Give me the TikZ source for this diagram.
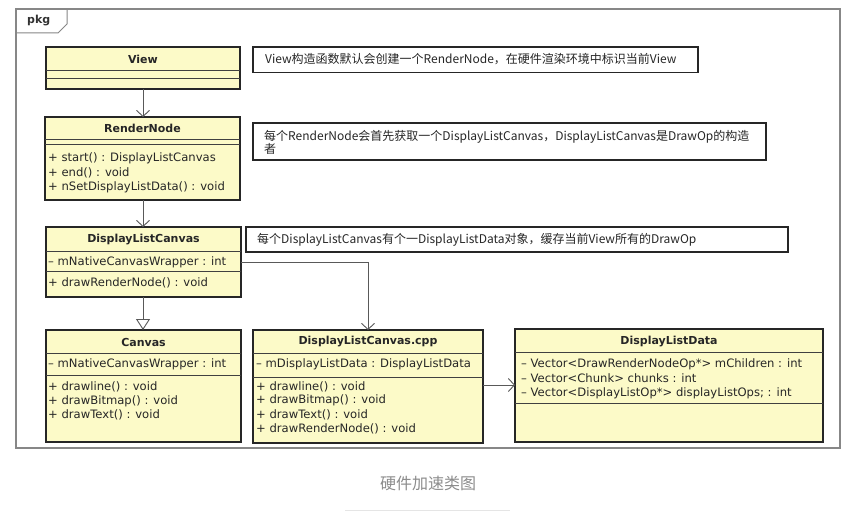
\documentclass[tikz,border=0pt]{standalone}
\usepackage{fontspec}
\setmainfont{DejaVu Sans}
\newfontfamily\cjk{Noto Sans CJK SC}
\usetikzlibrary{arrows.meta,calc}
\definecolor{classfill}{RGB}{252,250,200}
\definecolor{framegray}{RGB}{135,135,135}
\definecolor{capgray}{RGB}{140,140,140}
\tikzset{
  classbox/.style={draw=black!85, line width=1.6pt, fill=classfill, anchor=north west, inner sep=0pt, outer sep=0pt},
  notebox/.style={draw=black!85, line width=1.6pt, fill=white, anchor=north west, inner sep=0pt, outer sep=0pt},
  sepline/.style={draw=black!75, line width=0.8pt},
  cname/.style={font=\fontsize{11}{13}\selectfont\bfseries, inner sep=0pt, text=black!85},
  member/.style={font=\fontsize{11.6}{13}\selectfont, anchor=west, inner sep=0pt, text=black!85},
  notetext/.style={font=\cjk\fontsize{12}{14}\selectfont, anchor=west, inner sep=0pt, align=left, text=black!85},
  assoc/.style={draw=black!65, line width=0.9pt, -{Straight Barb[length=6pt,width=13pt]}},
  inherit/.style={draw=black!65, line width=0.9pt, -{Triangle[open,length=11pt,width=14pt,fill=white]}},
}
\begin{document}
\begin{tikzpicture}[x=1pt,y=-1pt]
\useasboundingbox (0,0) rectangle (866,519);
\fill[white] (0,0) rectangle (866,519);

% package frame
\draw[framegray, line width=1.2pt] (16,9) rectangle (840,448);
\draw[framegray, line width=1pt] (16,33) -- (58,33) -- (67,24) -- (67,9);
\node[font=\fontsize{11}{12}\selectfont\bfseries, anchor=west, inner sep=0pt, text=black!80] (pkg) at (27,21) {pkg};

% View
\node[classbox, minimum width=194pt, minimum height=42pt] (view) at (46,47) {};
\draw[sepline] (46,70) -- (240,70);
\draw[sepline] (46,78) -- (240,78);
\node[cname] (viewname) at (143,59) {View};

% RenderNode
\node[classbox, minimum width=195pt, minimum height=83pt] (rnode) at (45,117) {};
\draw[sepline] (45,139) -- (240,139);
\draw[sepline] (45,144.5) -- (240,144.5);
\node[cname] (rnname) at (142.5,128) {RenderNode};
\node[member] (rn1) at (48,158) {+ start() : DisplayListCanvas};
\node[member] (rn2) at (48,172.5) {+ end() : void};
\node[member] (rn3) at (48,187) {+ nSetDisplayListData() : void};

% DisplayListCanvas
\node[classbox, minimum width=195pt, minimum height=70pt] (dlc) at (46,227) {};
\draw[sepline] (46,251.5) -- (241,251.5);
\draw[sepline] (46,271.5) -- (241,271.5);
\node[cname] (dlcname) at (143.5,239.5) {DisplayListCanvas};
\node[member] (dlcattr) at (48,262) {-- mNativeCanvasWrapper : int};
\node[member] (dlcop) at (48,283) {+ drawRenderNode() : void};

% Canvas
\node[classbox, minimum width=195pt, minimum height=112pt] (canvas) at (46,330) {};
\draw[sepline] (46,353) -- (241,353);
\draw[sepline] (46,375) -- (241,375);
\node[cname] (canvasname) at (143.5,342) {Canvas};
\node[member] (cv1) at (48,364) {-- mNativeCanvasWrapper : int};
\node[member] (cv2) at (48,387) {+ drawline() : void};
\node[member] (cv3) at (48,401) {+ drawBitmap() : void};
\node[member] (cv4) at (48,415) {+ drawText() : void};

% DisplayListCanvas.cpp
\node[classbox, minimum width=230pt, minimum height=113pt] (cpp) at (253,330) {};
\draw[sepline] (253,353) -- (483,353);
\draw[sepline] (253,377.5) -- (483,377.5);
\node[cname] (cppname) at (368,342) {DisplayListCanvas.cpp};
\node[member] (cp0) at (256,364.5) {-- mDisplayListData : DisplayListData};
\node[member] (cp1) at (256,386.5) {+ drawline() : void};
\node[member] (cp2) at (256,400.5) {+ drawBitmap() : void};
\node[member] (cp3) at (256,414.5) {+ drawText() : void};
\node[member] (cp4) at (256,428.5) {+ drawRenderNode() : void};

% DisplayListData
\node[classbox, minimum width=308pt, minimum height=113pt] (dld) at (515,329) {};
\draw[sepline] (515,352.5) -- (823,352.5);
\draw[sepline] (515,403.5) -- (823,403.5);
\node[cname] (dldname) at (669,342) {DisplayListData};
\node[member] (dl1) at (521,364) {-- Vector<DrawRenderNodeOp*> mChildren : int};
\node[member] (dl2) at (521,378.5) {-- Vector<Chunk> chunks : int};
\node[member] (dl3) at (521,393) {-- Vector<DisplayListOp*> displayListOps; : int};

% notes
\node[notebox, minimum width=445pt, minimum height=25.5pt] (note1) at (253,47) {};
\node[notetext] (n1) at (265,59.5) {View构造函数默认会创建一个RenderNode，在硬件渲染环境中标识当前View};
\node[notebox, minimum width=513pt, minimum height=37pt] (note2) at (253,123) {};
\node[notetext, font=\cjk\fontsize{12}{13.5}\selectfont] (n2) at (264,142.5) {每个RenderNode会首先获取一个DisplayListCanvas，DisplayListCanvas是DrawOp的构造\\者};
\node[notebox, minimum width=542pt, minimum height=25pt] (note3) at (246,227) {};
\node[notetext] (n3) at (257,239.5) {每个DisplayListCanvas有个一DisplayListData对象，缓存当前View所有的DrawOp};

% connectors
\draw[assoc] (view.south) -- (rnode.north -| view.south);
\draw[assoc] (rnode.south -| view.south) -- (dlc.north -| view.south);
\draw[inherit] (dlc.south -| view.south) -- (canvas.north -| view.south);
\draw[assoc] (dlc.east |- dlcattr.west) -| (cpp.north);
\coordinate (lk) at (483,385);
\draw[assoc] (cpp.east |- lk) -- (dld.west |- lk);

% caption
\node[font=\cjk\fontsize{16}{18}\selectfont, text=capgray] (cap) at (428,483) {硬件加速类图};
\draw[black!10, line width=0.8pt] (345,510) -- (510,510);
\end{tikzpicture}
\end{document}
